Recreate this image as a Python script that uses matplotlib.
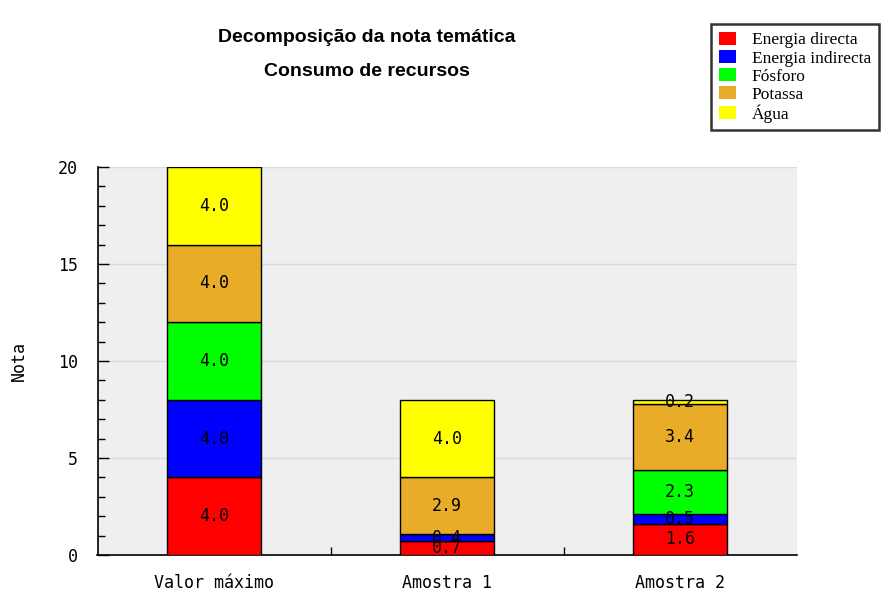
import matplotlib
matplotlib.use("Agg")
import matplotlib.pyplot as plt
from matplotlib.patches import Patch
import numpy as np

categories = ["Valor máximo", "Amostra 1", "Amostra 2"]
series_names = ["Energia directa", "Energia indirecta", "Fósforo", "Potassa", "Água"]
energia_directa = [4.0, 0.7, 1.6]
energia_indirecta = [4.0, 0.4, 0.5]
fosforo = [4.0, 0.0, 2.3]
potassa = [4.0, 2.9, 3.4]
agua = [4.0, 4.0, 0.2]
series_values = [energia_directa, energia_indirecta, fosforo, potassa, agua]
colors = ["#ff0000", "#0000ff", "#00ff00", "#e8ac28", "#ffff00"]
title_lines = ["Decomposição da nota temática", "Consumo de recursos"]
y_label = "Nota"

mono = "DejaVu Sans Mono"

fig = plt.figure(figsize=(8.83, 6.05), dpi=100)
ax = fig.add_axes([97.5 / 883, 1 - 555 / 605, 699 / 883, 388 / 605])
ax.set_facecolor("#efefef")

x = np.arange(len(categories))
bottom = np.zeros(len(categories))
for name, vals, col in zip(series_names, series_values, colors):
    vals = np.array(vals)
    bars = ax.bar(x, vals, width=0.40, bottom=bottom, color=col,
                  edgecolor="black", linewidth=1.0, zorder=3)
    labels = ["%.1f" % v if v > 0 else "" for v in vals]
    ax.bar_label(bars, labels=labels, label_type="center",
                 fontsize=12, family=mono, color="black", zorder=4)
    bottom += vals

ax.set_xlim(-0.5, len(categories) - 0.5)
ax.set_ylim(0, 20)
ax.set_yticks([0, 5, 10, 15, 20])
ax.set_yticks(np.arange(0, 21, 1), minor=True)
ax.set_xticks(x)
ax.set_xticklabels(categories, family=mono, fontsize=12)
ax.set_xticks(np.arange(0.5, len(categories) - 0.5, 1), minor=True)
for lab in ax.get_yticklabels():
    lab.set_family(mono)
    lab.set_fontsize(12)

ax.tick_params(axis="x", which="major", length=0, pad=14)
ax.tick_params(axis="x", which="minor", direction="in", length=6, width=1)
ax.tick_params(axis="y", which="major", direction="in", length=8, width=1, pad=14)
ax.tick_params(axis="y", which="minor", direction="in", length=5, width=1)

ax.grid(axis="y", which="major", color="#dadada", linewidth=1, zorder=0)
for s in ["top", "right"]:
    ax.spines[s].set_visible(False)
for s in ["left", "bottom"]:
    ax.spines[s].set_linewidth(1.2)

ax.set_ylabel(y_label, family=mono, fontsize=12, labelpad=22)

fig.text(367 / 883, 1 - 37 / 605, title_lines[0], ha="center", va="center",
         family="Liberation Sans", fontweight="bold", fontsize=14)
fig.text(367 / 883, 1 - 72 / 605, title_lines[1], ha="center", va="center",
         family="Liberation Sans", fontweight="bold", fontsize=14)

handles = [Patch(facecolor=c, edgecolor="none") for c in colors]
leg = fig.legend(handles, series_names, loc="upper right",
                 bbox_to_anchor=(879 / 883, 1 - 24 / 605),
                 prop={"family": "Liberation Serif", "size": 12.5},
                 frameon=True, fancybox=False, handlelength=1.0, handleheight=0.8,
                 handletextpad=0.9, labelspacing=0.08, borderpad=0.45,
                 borderaxespad=0)
leg.get_frame().set_edgecolor("black")
leg.get_frame().set_linewidth(1.8)
leg.get_frame().set_facecolor("white")

fig.savefig("out.png", dpi=100)
